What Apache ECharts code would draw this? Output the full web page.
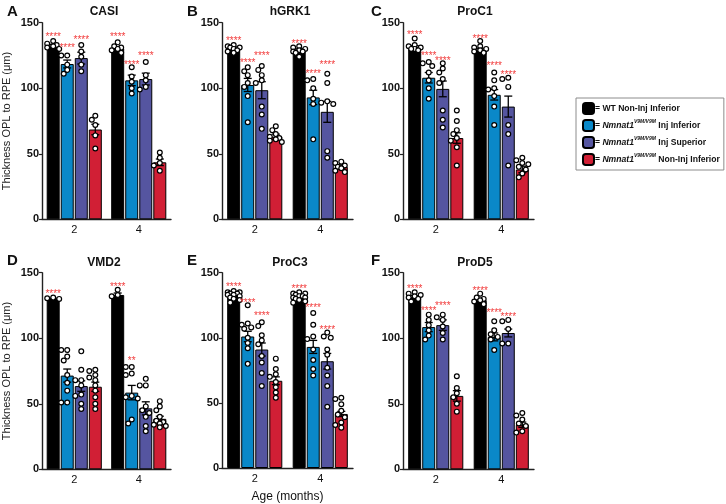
<!DOCTYPE html>
<html>
<head>
<meta charset="utf-8">
<script src="https://cdn.jsdelivr.net/npm/echarts@6/dist/echarts.min.js"></script>
<style>
html, body { margin: 0; padding: 0; background: #fff; }
#main { width: 726px; height: 504px; }
</style>
</head>
<body>
<div id="main"></div>
<script>
// categories
var ages = ['2', '4'];
var groupNames = ['WT Non-Inj Inferior', 'Nmnat1 V9M/V9M Inj Inferior', 'Nmnat1 V9M/V9M Inj Superior', 'Nmnat1 V9M/V9M Non-Inj Inferior'];
var groupTail = ['WT Non-Inj Inferior', ' Inj Inferior', ' Inj Superior', ' Non-Inj Inferior'];
var groupColors = ['#000000', '#0a88c8', '#5555a0', '#d11f35'];
var panelNames = ['CASI', 'hGRK1', 'ProC1', 'VMD2', 'ProC3', 'ProD5'];
var panelLetters = ['A', 'B', 'C', 'D', 'E', 'F'];

// values: [age][group]; starY = height of the significance marks
var casiMean = [[132.5, 118.5, 123, 68.5], [130.5, 106, 107, 43.5]];
var casiSem = [[1, 3, 4.5, 4], [1.2, 4, 4.5, 2.5]];
var casiPts = [
  [[136, 134, 133, 132, 131, 130], [125, 125, 118, 114, 111], [133, 128, 124, 118, 113], [79, 76, 72, 64, 54]],
  [[135, 132, 131, 130, 129, 127], [116, 109, 105, 100, 96], [120, 110, 106, 101, 99], [51, 47, 43, 41, 37]]
];
var casiStars = [['****', '****', '****', ''], ['****', '****', '****', '']];
var casiStarY = [[141.5, 133, 139, 0], [141.5, 120, 127, 0]];

var hgrkMean = [[130.5, 102.5, 98.5, 63], [129, 93, 82, 40]];
var hgrkSem = [[1, 5, 6.5, 2], [1, 5.5, 8, 1.5]];
var hgrkPts = [
  [[133, 132, 131, 131, 130, 129, 128, 127], [116, 113, 110, 104, 101, 94, 74], [117, 114, 110, 106, 104, 86, 80, 69], [71, 68, 65, 63, 62, 61, 60, 59]],
  [[132, 131, 130, 129, 128, 128, 127, 124], [107, 106, 100, 92, 88, 61], [111, 104, 90, 89, 88, 52, 47], [44, 43, 41, 40, 39, 37, 36]]
];
var hgrkStars = [['****', '****', '****', ''], ['****', '****', '****', '']];
var hgrkStarY = [[138.5, 121.5, 127, 0], [135.5, 113, 120, 0]];

var proc1Mean = [[131.5, 108, 99.5, 62], [129.5, 95, 86, 38]];
var proc1Sem = [[1, 4, 6, 4], [1, 4, 8, 2.5]];
var proc1Pts = [
  [[138, 133, 132, 131, 130, 130, 129], [120, 119, 117, 112, 106, 100, 92], [119, 115, 112, 107, 104, 83, 76, 70], [83, 75, 68, 65, 62, 60, 55, 41]],
  [[136, 132, 131, 130, 129, 128, 127], [112, 106, 100, 99, 94, 86, 72], [108, 107, 101, 72, 65, 41], [47, 45, 43, 42, 40, 38, 35, 32]]
];
var proc1Stars = [['****', '****', '****', ''], ['****', '****', '****', '']];
var proc1StarY = [[143, 127, 122.5, 0], [140, 119, 112.5, 0]];

var vmd2Mean = [[130, 71.5, 63.5, 63], [133, 58.5, 46.5, 38.5]];
var vmd2Sem = [[0.5, 5, 4, 3.5], [1.5, 5.5, 5, 2]];
var vmd2Pts = [
  [[131, 130.5, 130], [91, 91, 86, 83, 72, 66, 60, 51, 51], [90, 76, 68, 68, 64, 57, 56, 50, 46], [76, 75, 72, 70, 68, 64, 60, 55, 50, 46]],
  [[137, 133, 132], [78, 78, 73, 72, 56, 55, 54, 38, 35], [69, 64, 64, 48, 45, 43, 40, 33, 29], [52, 48, 45, 40, 37, 36, 35, 34, 33, 32]]
];
var vmd2Stars = [['****', '', '', ''], ['****', '**', '', '']];
var vmd2StarY = [[135.5, 0, 0, 0], [141, 85, 0, 0]];

var proc3Mean = [[132.5, 101, 91, 67], [131.5, 93, 82, 41.5]];
var proc3Sem = [[0.8, 4, 5, 3], [0.8, 5, 6, 2]];
var proc3Pts = [
  [[136, 135, 135, 134, 134, 133, 133, 132, 131, 130, 129, 127], [125, 111, 110, 108, 107, 100, 96, 92, 80], [112, 109, 102, 98, 95, 86, 81, 73, 63], [84, 76, 72, 70, 66, 62, 58, 54]],
  [[135, 134, 134, 133, 132, 132, 131, 131, 130, 129, 128, 127], [119, 110, 101, 99, 91, 83, 76, 71], [104, 101, 100, 91, 87, 77, 71, 63, 47], [54, 53, 49, 44, 41, 39, 35, 33, 31]]
];
var proc3Stars = [['****', '****', '****', ''], ['****', '****', '****', '']];
var proc3StarY = [[141, 129, 118.5, 0], [139.5, 125, 108, 0]];

var prod5Mean = [[131.5, 108.5, 110, 56], [129, 101, 104, 34]];
var prod5Sem = [[1, 3.5, 4, 4], [1, 3, 3, 2]];
var prod5Pts = [
  [[135, 134, 133, 132, 131, 130, 128], [118, 114, 110, 106, 102, 99], [118, 116, 114, 109, 104, 99], [71, 62, 58, 55, 50, 44]],
  [[134, 131, 130, 129, 128, 126], [113, 106, 103, 101, 99, 91], [114, 113, 107, 96, 96], [43, 41, 38, 35, 33, 29, 28]]
];
var prod5Stars = [['****', '****', '****', ''], ['****', '****', '****', '']];
var prod5StarY = [[140, 122.5, 127, 0], [138.5, 121, 118, 0]];

var panels = [
  { mean: casiMean, sem: casiSem, pts: casiPts, stars: casiStars, starY: casiStarY },
  { mean: hgrkMean, sem: hgrkSem, pts: hgrkPts, stars: hgrkStars, starY: hgrkStarY },
  { mean: proc1Mean, sem: proc1Sem, pts: proc1Pts, stars: proc1Stars, starY: proc1StarY },
  { mean: vmd2Mean, sem: vmd2Sem, pts: vmd2Pts, stars: vmd2Stars, starY: vmd2StarY },
  { mean: proc3Mean, sem: proc3Sem, pts: proc3Pts, stars: proc3Stars, starY: proc3StarY },
  { mean: prod5Mean, sem: prod5Sem, pts: prod5Pts, stars: prod5Stars, starY: prod5StarY }
];

// layout
var axisLeft = [40, 222, 403];
var rowTop = [22.7, 272.7];
var plotW = 131, plotH = 196.6;
var titleX = [99, 285, 470];
var letterX = [2, 182, 366];
var BAR_W = 13, BAR_GAP = 0.08;
var FONT = 'Liberation Sans, Arial, Helvetica, sans-serif';

var myChart = echarts.init(document.getElementById('main'));

function renderer(p) {
  return function (params, api) {
    var c = api.value(0), k = api.value(1);
    var m = p.mean[c][k], s = p.sem[c][k];
    var x = api.coord([c, m])[0] + (k - 1.5) * BAR_W * (1 + BAR_GAP);
    var yHi = api.coord([c, m + s])[1];
    var yLo = api.coord([c, m - s])[1];
    var kids = [];
    var ls = { stroke: '#000', lineWidth: 1.3 };
    kids.push({ type: 'line', shape: { x1: x, y1: yHi, x2: x, y2: yLo }, style: ls });
    kids.push({ type: 'line', shape: { x1: x - 4, y1: yHi, x2: x + 4, y2: yHi }, style: ls });
    kids.push({ type: 'line', shape: { x1: x - 4, y1: yLo, x2: x + 4, y2: yLo }, style: ls });
    // spread points sideways so they don't sit on top of each other
    var placed = [];
    var cand = [0, -3.5, 3.5, -6, 6];
    p.pts[c][k].forEach(function (v) {
      var py = api.coord([c, v])[1];
      var best = 0, bestD = -1;
      for (var j = 0; j < cand.length; j++) {
        var d = 99;
        placed.forEach(function (q) {
          d = Math.min(d, Math.hypot(q[0] - (x + cand[j]), q[1] - py));
        });
        if (d >= 4.6) { best = cand[j]; bestD = d; break; }
        if (d > bestD) { bestD = d; best = cand[j]; }
      }
      placed.push([x + best, py]);
    });
    placed.forEach(function (q) {
      kids.push({ type: 'circle', shape: { cx: q[0], cy: q[1], r: 2.4 }, style: { fill: '#fff', stroke: '#000', lineWidth: 1.2 } });
    });
    var st = p.stars[c][k];
    if (st) {
      var sy = api.coord([c, p.starY[c][k]])[1];
      kids.push({
        type: 'text',
        style: { x: x, y: sy + 3, text: st, fill: '#f23c3c', fontSize: 10, fontFamily: FONT, align: 'center', verticalAlign: 'middle' }
      });
    }
    return { type: 'group', children: kids };
  };
}

var grids = [], xAxes = [], yAxes = [], series = [], titles = [];
panels.forEach(function (p, i) {
  var col = i % 3, row = Math.floor(i / 3);
  grids.push({ left: axisLeft[col], top: rowTop[row], width: plotW, height: plotH });
  xAxes.push({
    type: 'category', gridIndex: i, data: ages,
    axisTick: { show: false },
    axisLine: { lineStyle: { color: '#222', width: 1.4 } },
    axisLabel: { fontSize: 11, margin: 5, color: '#111', fontFamily: FONT },
    name: i === 4 ? 'Age (months)' : '',
    nameLocation: 'middle', nameGap: 23,
    nameTextStyle: { fontSize: 12, color: '#111', fontFamily: FONT }
  });
  yAxes.push({
    type: 'value', gridIndex: i, min: 0, max: 150, interval: 50,
    splitLine: { show: false },
    axisLine: { show: true, lineStyle: { color: '#222', width: 1.4 } },
    axisTick: { show: true, length: 3, lineStyle: { color: '#222', width: 1.2 } },
    axisLabel: { fontSize: 11, fontWeight: 'bold', margin: 3, color: '#111', fontFamily: FONT },
    name: col === 0 ? 'Thickness OPL to RPE (\u03bcm)' : '',
    nameLocation: 'middle', nameGap: 30, nameRotate: 90,
    nameTextStyle: { fontSize: 11, color: '#222', fontFamily: FONT }
  });
  groupNames.forEach(function (g, k) {
    series.push({
      type: 'bar', name: g, xAxisIndex: i, yAxisIndex: i,
      data: [p.mean[0][k], p.mean[1][k]],
      barWidth: BAR_W, barGap: (BAR_GAP * 100) + '%',
      itemStyle: { color: groupColors[k], borderColor: '#000', borderWidth: 1 },
      silent: true
    });
  });
  var items = [];
  for (var c = 0; c < ages.length; c++) {
    for (var k = 0; k < groupNames.length; k++) items.push([c, k, p.mean[c][k]]);
  }
  series.push({
    type: 'custom', xAxisIndex: i, yAxisIndex: i, data: items,
    encode: { x: 0, y: 2 }, renderItem: renderer(p), z: 5, silent: true
  });
  titles.push({
    text: panelNames[i], left: titleX[col], top: row === 0 ? 1 : 252, textAlign: 'center',
    textStyle: { fontSize: 12, fontWeight: 'bold', color: '#111', fontFamily: FONT }
  });
  titles.push({
    text: panelLetters[i], left: letterX[col], top: row === 0 ? -1 : 248,
    textStyle: { fontSize: 15, fontWeight: 'bold', color: '#111', fontFamily: FONT }
  });
});

var option = {
  animation: false,
  textStyle: { fontFamily: FONT },
  title: titles,
  grid: grids,
  xAxis: xAxes,
  yAxis: yAxes,
  legend: {
    data: groupNames, orient: 'vertical', left: 576, top: 98,
    itemWidth: 11, itemHeight: 11, itemGap: 4,
    padding: [4, 4, 4, 6],
    borderColor: '#8c8c8c', borderWidth: 1,
    selectedMode: false,
    formatter: function (name) {
      var k = groupNames.indexOf(name);
      if (k === 0) return '{b|= ' + groupTail[0] + '}';
      return '{b|= }{i|Nmnat1}{s|V9M/V9M}{b|' + groupTail[k] + '}';
    },
    textStyle: {
      padding: [0, 0, 0, -4],
      rich: {
        b: { fontFamily: FONT, fontWeight: 'bold', fontSize: 8.6, color: '#111', lineHeight: 12 },
        i: { fontFamily: FONT, fontWeight: 'bold', fontStyle: 'italic', fontSize: 8.6, color: '#111', lineHeight: 12 },
        s: { fontFamily: FONT, fontWeight: 'bold', fontStyle: 'italic', fontSize: 5, color: '#111', verticalAlign: 'top', lineHeight: 8 }
      }
    }
  },
  series: series
};
myChart.setOption(option);
</script>
</body>
</html>
